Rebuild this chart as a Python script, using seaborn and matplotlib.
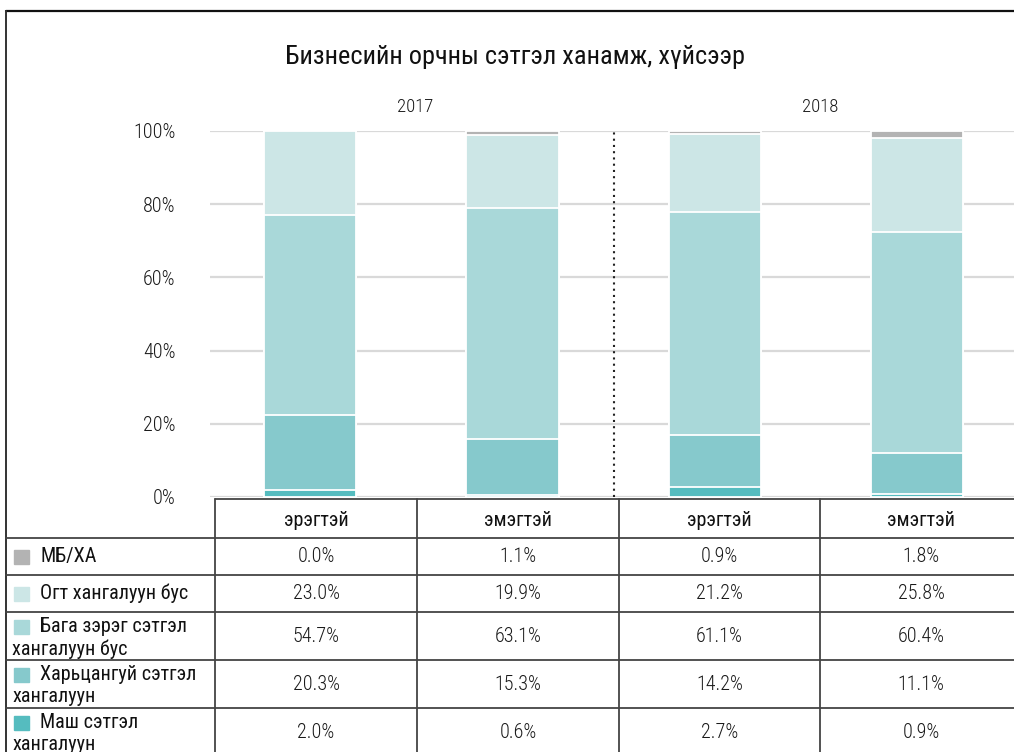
import matplotlib
matplotlib.use("Agg")
import matplotlib.pyplot as plt
from matplotlib.patches import Rectangle
from matplotlib.ticker import FuncFormatter
import pandas as pd
import seaborn as sns

title = "Бизнесийн орчны сэтгэл ханамж, хүйсээр"
years = ["2017", "2018"]
genders = ["эрэгтэй", "эмэгтэй", "эрэгтэй", "эмэгтэй"]
groups = ["2017 эрэгтэй", "2017 эмэгтэй", "2018 эрэгтэй", "2018 эмэгтэй"]

# top of the table to the bottom, same order as the stack from top down
categories = ["МБ/ХА", "Огт хангалуун бус", "Бага зэрэг сэтгэл\nхангалуун бус",
              "Харьцангуй сэтгэл\nхангалуун", "Маш сэтгэл\nхангалуун"]
mb_xa = [0.0, 1.1, 0.9, 1.8]
ogt = [23.0, 19.9, 21.2, 25.8]
baga = [54.7, 63.1, 61.1, 60.4]
hartsangui = [20.3, 15.3, 14.2, 11.1]
mash = [2.0, 0.6, 2.7, 0.9]
series = [mb_xa, ogt, baga, hartsangui, mash]
colors = ["#b3b3b3", "#cce6e6", "#a9d8d9", "#86c9cc", "#55bcbf"]

sns.set_style("white")
plt.rcParams["font.family"] = ["Roboto Condensed", "Roboto", "DejaVu Sans"]

W, H = 1014, 752
fig = plt.figure(figsize=(W / 100, H / 100), dpi=100)


def fx(px):
    return px / W


def fy(py):
    return 1 - py / H


# main bar axes: 0% at y=497px, 100% at y=131px
ax = fig.add_axes([fx(210), fy(497), fx(1014) - fx(210), fy(131) - fy(497)])

# stacked bars drawn as cumulative totals, tallest first
cum = [0.0] * 4
cums = []
for s in reversed(series):
    cum = [c + v for c, v in zip(cum, s)]
    cums.append(list(cum))
cums = list(reversed(cums))
for vals, col in zip(cums, colors):
    sns.barplot(x=groups, y=vals, color=col, saturation=1, width=0.455,
                edgecolor="white", linewidth=1.3, ax=ax, clip_on=False, zorder=2)

ax.set_xlim(-0.494, 3.477)
ax.set_ylim(0, 100)
ax.set_yticks(range(0, 101, 20))
ax.yaxis.set_major_formatter(FuncFormatter(lambda v, p: f"{v:.0f}%"))
ax.tick_params(axis="y", length=0, pad=25, labelsize=14.5, labelcolor="#1a1a1a")
for lab in ax.get_yticklabels():
    lab.set_fontweight("light")
ax.set_xticks([])
ax.set_xlabel("")
ax.set_ylabel("")
ax.grid(axis="y", color="#d9d9d9", linewidth=1.6, zorder=0)
ax.set_axisbelow(True)
for sp in ax.spines.values():
    sp.set_visible(False)
ax.axvline(1.5, color="#222222", linestyle=(0, (1, 2)), linewidth=1.5, zorder=3, clip_on=False)
for i, y in enumerate(years):
    ax.text(0.52 + 2 * i, 106.5, y, ha="center", va="center", fontsize=13.5,
            color="#1a1a1a", fontweight="light")

fig.text(fx(515), fy(57), title, ha="center", va="center", fontsize=19, color="#111111")

# table overlay in pixel coordinates
tab = fig.add_axes([0, 0, 1, 1])
tab.set_xlim(0, W)
tab.set_ylim(H, 0)
tab.set_axis_off()

# outer frame
tab.plot([6, 1014], [11, 11], color="#111111", lw=1.6)
tab.plot([6, 6], [11, 752], color="#333333", lw=1.4)

col_edges = [215, 417, 619, 820, 1022]
row_edges = [538, 575, 612, 660, 708, 760]
line_col = "#444444"
tab.plot([215, 1014], [499, 499], color=line_col, lw=1.3)
for x in col_edges[:-1]:
    tab.plot([x, x], [499, 752], color=line_col, lw=1.3)
for y in row_edges[:-1]:
    tab.plot([6, 1014], [y, y], color=line_col, lw=1.3)

for j, g in enumerate(genders):
    cx = (col_edges[j] + col_edges[j + 1]) / 2
    tab.text(cx, 521, g, ha="center", va="center", fontsize=14.5, color="#111111")

for r, (name, vals, col) in enumerate(zip(categories, series, colors)):
    top, bot = row_edges[r], min(row_edges[r + 1], 756)
    cy = (top + bot) / 2
    lines = name.split("\n")
    if len(lines) == 1:
        ly = [cy]
    else:
        ly = [top + 15, top + 37]
    tab.add_patch(Rectangle((14, ly[0] - 7), 15, 14, color=col))
    tab.text(40, ly[0], lines[0], ha="left", va="center", fontsize=14.5, color="#111111")
    if len(lines) > 1:
        tab.text(12, ly[1], lines[1], ha="left", va="center", fontsize=14.5, color="#111111")
    for j, v in enumerate(vals):
        cx = (col_edges[j] + col_edges[j + 1]) / 2
        tab.text(cx, cy + (1 if r == 4 else 0), f"{v:.1f}%", ha="center", va="center",
                 fontsize=14.5, color="#1a1a1a", fontweight="light")

fig.savefig("out.png", dpi=100)
